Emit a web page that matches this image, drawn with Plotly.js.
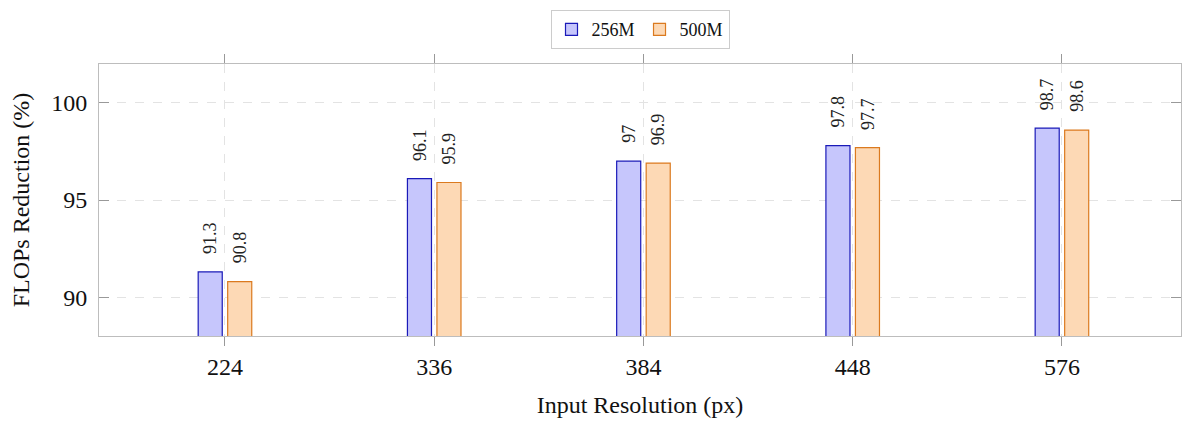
<!DOCTYPE html>
<html>
<head>
<meta charset="utf-8">
<script src="https://cdn.plot.ly/plotly-3.0.1.min.js"></script>
<style>html,body{margin:0;padding:0;background:#fff;}#chart{width:1192px;height:421px;}</style>
</head>
<body>
<div id="chart"></div>
<script>
const resolutions = ['224', '336', '384', '448', '576'];
const flops256M = [91.3, 96.1, 97.0, 97.8, 98.7];
const flops500M = [90.8, 95.9, 96.9, 97.7, 98.6];
const seriesNames = ['256M', '500M'];

const barWidth = 0.115;
const offsets = [-0.128, 0.013];
const fills = ['#c6c6fc', '#fdd9b5'];
const lines = ['#1a1ab8', '#db7a1f'];
const serif = 'Liberation Serif, Times New Roman, serif';

const allSeries = [flops256M, flops500M];
const traces = allSeries.map((vals, k) => ({
  type: 'bar',
  name: seriesNames[k],
  x: resolutions,
  y: vals,
  width: barWidth,
  offset: offsets[k],
  marker: {color: fills[k], line: {color: lines[k], width: 1.2}},
  hoverinfo: 'x+y'
}));

const annotations = [];
allSeries.forEach((vals, k) => {
  vals.forEach((v, i) => {
    annotations.push({
      x: i + offsets[k] + barWidth / 2,
      y: v,
      xref: 'x', yref: 'y',
      text: String(v),
      textangle: -90,
      showarrow: false,
      xanchor: 'center',
      yanchor: 'bottom',
      yshift: 16,
      font: {family: serif, size: 18, color: '#222'}
    });
  });
});

const layout = {
  width: 1192, height: 421,
  margin: {l: 99, r: 11, t: 63, b: 85},
  paper_bgcolor: '#fff', plot_bgcolor: '#fff',
  showlegend: true,
  legend: {
    orientation: 'h', x: 0.5, xanchor: 'center', y: 1.051, yanchor: 'bottom',
    bordercolor: '#cccccc', borderwidth: 1, itemwidth: 30,
    font: {family: serif, size: 18, color: '#111'}
  },
  xaxis: {
    type: 'category',
    range: [-0.602, 4.569],
    showline: true, linecolor: '#bdbdbd', linewidth: 1, mirror: 'ticks',
    ticks: 'outside', ticklen: 9, tickcolor: '#999', tickwidth: 1,
    showgrid: true, gridcolor: '#e3e3e3', griddash: 'dash', gridwidth: 1,
    tickfont: {family: serif, size: 24, color: '#111'},
    title: {text: 'Input Resolution (px)', font: {family: serif, size: 24, color: '#111'}, standoff: 17},
    zeroline: false
  },
  yaxis: {
    range: [88, 102],
    tickvals: [90, 95, 100],
    showline: true, linecolor: '#bdbdbd', linewidth: 1, mirror: 'ticks',
    ticks: 'inside', ticklen: 10, tickcolor: '#999', tickwidth: 1,
    ticklabelstandoff: 6,
    showgrid: true, gridcolor: '#e3e3e3', griddash: 'dash', gridwidth: 1,
    tickfont: {family: serif, size: 24, color: '#111'},
    title: {text: 'FLOPs Reduction (%)', font: {family: serif, size: 24, color: '#111'}, standoff: 14},
    zeroline: false
  },
  annotations: annotations
};

Plotly.newPlot('chart', traces, layout, {displayModeBar: false, staticPlot: true});
</script>
</body>
</html>
